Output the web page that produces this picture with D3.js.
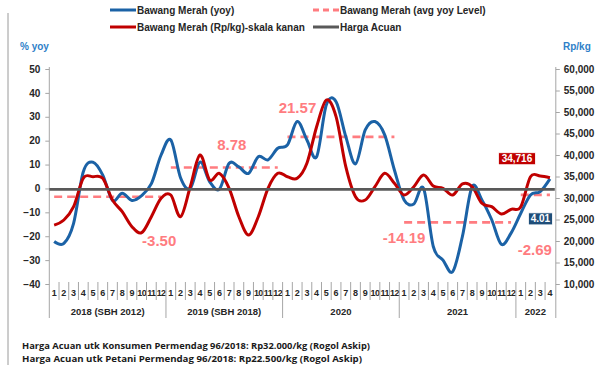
<!DOCTYPE html>
<html>
<head>
<meta charset="utf-8">
<script src="https://cdn.jsdelivr.net/npm/d3@7"></script>
<style>
  html, body { margin: 0; padding: 0; background: #fff; }
  svg { display: block; font-family: "Liberation Sans", Arial, sans-serif; }
</style>
</head>
<body>
<svg id="chart" width="611" height="365"></svg>
<script>
// Monthly periods, Jan 2018 .. Apr 2022
const years = [
  { label: "2018 (SBH 2012)", months: 12 },
  { label: "2019 (SBH 2018)", months: 12 },
  { label: "2020", months: 12 },
  { label: "2021", months: 12 },
  { label: "2022", months: 4 }
];
const periods = years.flatMap((y, yi) => d3.range(1, y.months + 1).map(m => ({ year: yi, month: m })));

// Bawang Merah year-on-year change (%), left axis
const yoy = [
  -22.2, -23.0, -14.6, 7.0, 11.0, 5.6, -5.0, -2.0, -5.0, -3.0, 2.0, 14.0,
  20.3, 4.5, 0.0, 11.0, 2.8, -0.3, 10.5, 9.0, 6.3, 13.3, 12.0, 16.8,
  18.2, 28.0, 20.3, 13.3, 35.0, 36.3, 21.7, 10.3, 24.5, 28.0, 22.4, 7.7,
  -4.8, -6.5, 0.0, -24.3, -30.0, -34.8, -20.0, 0.8, -4.8, -13.0, -23.4, -18.7,
  -10.4, -2.7, -1.3, 4.01
];

// Bawang Merah price (Rp/kg), right axis
const price = [
  23700, 24880, 27980, 34580, 34950, 34580, 29530, 26810, 23330, 21930, 25650, 29930,
  30700, 25650, 32630, 40000, 34190, 35740, 32260, 25650, 21400, 25650, 32260, 35740,
  34950, 34580, 38070, 46580, 52790, 48910, 37280, 30300, 29530, 32630, 35740, 33420,
  30700, 32630, 35350, 32790, 32260, 30700, 33260, 32630, 28770, 27980, 26280, 27370,
  27980, 34950, 35100, 34716
];

// Average yoy level per year (%)
const avgYoy = [-3.50, 8.78, 21.57, -14.19, -2.69];

// Harga Acuan (Rp/kg)
const hargaAcuan = 32000;

const leftTicks = [-40, -30, -20, -10, 0, 10, 20, 30, 40, 50];
const rightTicks = [10000, 15000, 20000, 25000, 30000, 35000, 40000, 45000, 50000, 55000, 60000];

// Placement of the yearly average labels relative to their dashed line
const avgLabelLayout = [
  { dx: 105, dy: 49 },
  { dx: 61, dy: -17 },
  { dx: 10, dy: -24 },
  { dx: 0, dy: 21 },
  { dx: 14, dy: 60 }
];

const colors = {
  yoy: "#1b62a6",
  price: "#c00000",
  avg: "#ff7c80",
  acuan: "#595959",
  axis: "#a6a6a6",
  text: "#262626",
  unit: "#2f7fc8",
  yoyBox: "#1f4e79"
};

const svg = d3.select("#chart");
const plot = { left: 49.3, right: 554.8, top: 69, bottom: 284 };

const x = d3.scaleBand().domain(d3.range(periods.length)).range([plot.left, plot.right]).padding(0);
const cx = i => x(i) + x.bandwidth() / 2;
const yL = d3.scaleLinear().domain([-40, 50]).range([plot.bottom, plot.top]);
const yR = d3.scaleLinear().domain([10000, 60000]).range([plot.bottom, plot.top]);

// thin frame line at the far left
svg.append("line").attr("x1", 8).attr("x2", 8).attr("y1", 13).attr("y2", 365)
  .attr("stroke", "#9a9a9a").attr("stroke-width", 1);

// Left axis
const gL = svg.append("g").attr("transform", `translate(${plot.left},0)`)
  .call(d3.axisLeft(yL).tickValues(leftTicks).tickSize(4).tickPadding(5).tickSizeOuter(0));
gL.select(".domain").remove();
gL.selectAll(".tick line").attr("stroke", colors.axis);
gL.selectAll("text").attr("font-size", 10).attr("font-weight", "bold").attr("fill", colors.text);

// Right axis
const gR = svg.append("g").attr("transform", `translate(${plot.right + 1},0)`)
  .call(d3.axisRight(yR).tickValues(rightTicks).tickSize(4).tickPadding(4).tickSizeOuter(0)
    .tickFormat(d3.format(",")));
gR.select(".domain").remove();
gR.selectAll(".tick line").attr("stroke", colors.axis);
gR.selectAll("text").attr("font-size", 10).attr("font-weight", "bold").attr("fill", colors.text);

// Vertical axis lines, extended through the category label band
svg.append("line").attr("x1", plot.left).attr("x2", plot.left).attr("y1", plot.top - 2).attr("y2", 318)
  .attr("stroke", colors.axis);
svg.append("line").attr("x1", plot.right + 1).attr("x2", plot.right + 1).attr("y1", plot.top - 2).attr("y2", 318)
  .attr("stroke", colors.axis);

// Category axis: month ticks, month labels, year separators
const cat = svg.append("g");
periods.forEach((p, i) => {
  if (i > 0) {
    const bx = x(i);
    const yearStart = p.month === 1;
    cat.append("line").attr("x1", bx).attr("x2", bx)
      .attr("y1", plot.bottom - 2).attr("y2", plot.bottom + 1)
      .attr("stroke", colors.axis);
    cat.append("line").attr("x1", bx).attr("x2", bx)
      .attr("y1", plot.bottom + 1).attr("y2", yearStart ? 318 : 300)
      .attr("stroke", colors.axis);
  }
  cat.append("text").attr("x", cx(i)).attr("y", 295.5).attr("text-anchor", "middle")
    .attr("font-size", 9).attr("font-weight", "bold").attr("fill", colors.text)
    .attr("letter-spacing", p.month >= 10 ? -0.6 : 0)
    .text(p.month);
});
let start = 0;
years.forEach(y => {
  const x0 = x(start), x1 = x(start + y.months - 1) + x.bandwidth();
  cat.append("text").attr("x", (x0 + x1) / 2).attr("y", 314.5).attr("text-anchor", "middle")
    .attr("font-size", 9.5).attr("font-weight", "bold").attr("fill", colors.text)
    .text(y.label);
  start += y.months;
});

// Yearly average dashed segments + labels
start = 0;
years.forEach((y, yi) => {
  const i0 = start, i1 = start + y.months - 1;
  const yy = yL(avgYoy[yi]);
  svg.append("line").attr("x1", cx(i0)).attr("x2", cx(i1)).attr("y1", yy).attr("y2", yy)
    .attr("stroke", colors.avg).attr("stroke-width", 2.6).attr("stroke-dasharray", "8,5");
  const lay = avgLabelLayout[yi];
  svg.append("text").attr("x", cx(i0) + lay.dx).attr("y", yy + lay.dy).attr("text-anchor", "middle")
    .attr("font-size", 15).attr("font-weight", "bold").attr("fill", colors.avg)
    .text(avgYoy[yi].toFixed(2));
  start += y.months;
});

const curve = d3.curveCatmullRom.alpha(0);

// yoy line (left axis)
svg.append("path").datum(yoy)
  .attr("d", d3.line().x((d, i) => cx(i)).y(d => yL(d)).curve(curve))
  .attr("fill", "none").attr("stroke", colors.yoy).attr("stroke-width", 3).attr("stroke-linejoin", "round");

// price line (right axis)
svg.append("path").datum(price)
  .attr("d", d3.line().x((d, i) => cx(i)).y(d => yR(d)).curve(curve))
  .attr("fill", "none").attr("stroke", colors.price).attr("stroke-width", 3).attr("stroke-linejoin", "round");

// Harga Acuan reference line (right axis)
svg.append("line").attr("x1", plot.left).attr("x2", plot.right)
  .attr("y1", yR(hargaAcuan)).attr("y2", yR(hargaAcuan))
  .attr("stroke", colors.acuan).attr("stroke-width", 2.6);

// Value boxes for the latest month
const last = periods.length - 1;
function valueBox(cxPos, cyPos, w, h, fill, txt) {
  svg.append("rect").attr("x", cxPos - w / 2).attr("y", cyPos - h / 2).attr("width", w).attr("height", h)
    .attr("fill", fill).attr("stroke", "#fff").attr("stroke-width", 0.8);
  svg.append("text").attr("x", cxPos).attr("y", cyPos + 3.6).attr("text-anchor", "middle")
    .attr("font-size", 10).attr("font-weight", "bold").attr("fill", "#fff").text(txt);
}
valueBox(cx(last) - 33, yR(price[last]) - 19, 37, 12, colors.price, d3.format(",")(price[last]));
valueBox(cx(last) - 9.5, yL(yoy[last]) + 40, 24, 12, colors.yoyBox, yoy[last].toFixed(2));

// Unit titles
svg.append("text").attr("x", 20).attr("y", 50).attr("font-size", 10).attr("font-weight", "bold")
  .attr("fill", colors.unit).text("% yoy");
svg.append("text").attr("x", 563).attr("y", 50).attr("font-size", 10).attr("font-weight", "bold")
  .attr("fill", colors.unit).text("Rp/kg");

// Legend
const legend = [
  { label: "Bawang Merah (yoy)", color: colors.yoy, dash: null, x: 110, y: 10 },
  { label: "Bawang Merah (avg yoy Level)", color: colors.avg, dash: "6,4", x: 313, y: 10 },
  { label: "Bawang Merah (Rp/kg)-skala kanan", color: colors.price, dash: null, x: 110, y: 27 },
  { label: "Harga Acuan", color: colors.acuan, dash: null, x: 313, y: 27 }
];
legend.forEach(l => {
  svg.append("line").attr("x1", l.x).attr("x2", l.x + 26).attr("y1", l.y).attr("y2", l.y)
    .attr("stroke", l.color).attr("stroke-width", 3).attr("stroke-dasharray", l.dash);
  svg.append("text").attr("x", l.x + 27).attr("y", l.y + 3.5).attr("font-size", 10).attr("font-weight", "bold")
    .attr("fill", colors.text).text(l.label);
});

// Footnotes
const notes = [
  "Harga Acuan utk Konsumen Permendag 96/2018: Rp32.000/kg (Rogol Askip)",
  "Harga Acuan utk Petani Permendag 96/2018: Rp22.500/kg (Rogol Askip)"
];
const noteWidths = [348, 340];
notes.forEach((n, i) => {
  svg.append("text").attr("x", 22).attr("y", 348.5 + i * 13).attr("font-size", 9.5).attr("font-weight", "bold")
    .attr("font-family", "'Open Sans', 'Noto Sans', sans-serif")
    .attr("textLength", noteWidths[i]).attr("lengthAdjust", "spacingAndGlyphs")
    .attr("fill", "#1a1a1a").text(n);
});
</script>
</body>
</html>
